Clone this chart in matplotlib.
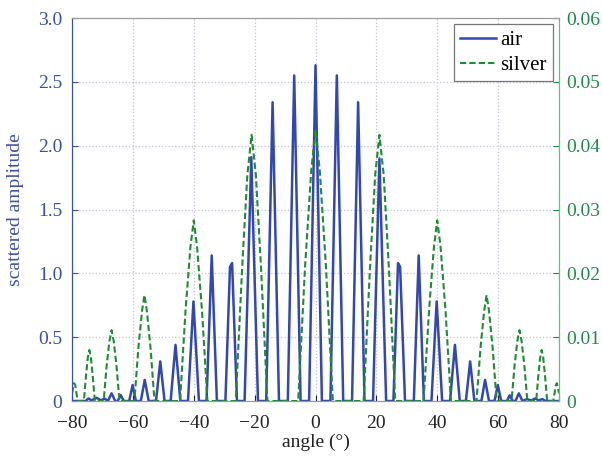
import numpy as np
import matplotlib
matplotlib.use("Agg")
import matplotlib.pyplot as plt

# values
air_angle = [-80, -75.5, -74.6, -73.6, -71.9, -70.5, -69.3, -68.2, -67.0, -65.8,
             -65.0, -64.0, -63.0, -61.2, -60.1, -59.0, -57.4, -56.1, -54.8, -52.4,
             -51.0, -49.6, -47.6, -46.0, -44.4, -41.9, -40.1, -38.3, -35.8, -34.1,
             -32.4, -29.6, -28.1, -27.4, -25.8, -23.3, -21.1, -18.9, -16.2, -14.1,
             -12.0, -9.1, -7.0, -4.9, -2.1, 0.0, 2.1, 4.9, 7.0, 9.1,
             12.0, 14.0, 16.1, 18.9, 21.0, 23.2, 25.6, 27.1, 27.8, 29.4,
             32.3, 33.9, 35.6, 38.1, 39.8, 41.6, 44.2, 45.8, 47.4, 49.4,
             50.8, 52.2, 54.5, 55.7, 57.0, 58.8, 59.9, 61.0, 62.9, 63.8,
             64.8, 65.7, 66.8, 68.0, 69.5, 70.8, 72.2, 73.3, 74.5, 75.6, 80]
air_amp = [0, 0, 0.02, 0.005, 0.025, 0.005, 0.02, 0, 0.06, 0,
           0, 0.047, 0, 0, 0.125, 0, 0, 0.165, 0, 0,
           0.31, 0, 0, 0.44, 0, 0, 0.78, 0, 0, 1.14,
           0, 0, 1.05, 1.08, 0, 0, 1.91, 0, 0, 2.34,
           0, 0, 2.55, 0, 0, 2.63, 0, 0, 2.55, 0,
           0, 2.34, 0, 0, 1.90, 0, 0, 1.08, 1.05, 0,
           0, 1.14, 0, 0, 0.78, 0, 0, 0.44, 0, 0,
           0.31, 0, 0, 0.165, 0, 0, 0.125, 0, 0, 0.045,
           0, 0, 0.06, 0, 0.015, 0.004, 0.02, 0.004, 0.015, 0, 0]

silver_angle = [-80, -79.3, -78.9, -78.6, -78.1,
                -76.1, -75.4, -74.8, -74.3, -73.8, -73.2, -72.5,
                -69.6, -68.6, -67.7, -67.0, -66.3, -65.4, -64.4,
                -59.5, -58.2, -57.0, -56.2, -55.4, -54.2, -52.9,
                -44.5, -42.7, -41.1, -40.0, -38.9, -37.3, -35.5,
                -26.2, -24.1, -22.4, -21.0, -19.6, -17.9, -15.8,
                -5.7, -3.4, -1.4, 0.0, 1.4, 3.4, 5.7,
                15.8, 17.9, 19.6, 21.0, 22.4, 24.1, 26.2,
                35.5, 37.3, 38.9, 40.0, 41.1, 42.7, 44.5,
                52.9, 54.2, 55.4, 56.2, 57.0, 58.2, 59.5,
                64.4, 65.4, 66.3, 67.0, 67.7, 68.6, 69.6,
                72.5, 73.2, 73.8, 74.3, 74.8, 75.4, 76.1,
                78.1, 78.6, 78.9, 79.3, 80]
silver_amp = [0.0012, 0.0028, 0.0024, 0.0014, 0,
              0, 0.004, 0.0068, 0.008, 0.0068, 0.004, 0,
              0, 0.0056, 0.0094, 0.0111, 0.0094, 0.0056, 0,
              0, 0.0083, 0.0141, 0.0166, 0.0141, 0.0083, 0,
              0, 0.0142, 0.0241, 0.0283, 0.0241, 0.0142, 0,
              0, 0.0209, 0.0354, 0.0417, 0.0354, 0.0209, 0,
              0, 0.0213, 0.0361, 0.0425, 0.0361, 0.0213, 0,
              0, 0.0209, 0.0354, 0.0417, 0.0354, 0.0209, 0,
              0, 0.0142, 0.0241, 0.0283, 0.0241, 0.0142, 0,
              0, 0.0083, 0.0141, 0.0166, 0.0141, 0.0083, 0,
              0, 0.0056, 0.0094, 0.0111, 0.0094, 0.0056, 0,
              0, 0.004, 0.0068, 0.008, 0.0068, 0.004, 0,
              0, 0.0014, 0.0024, 0.0028, 0.0012]

x_ticks = [-80, -60, -40, -20, 0, 20, 40, 60, 80]
left_ticks = [0, 0.5, 1.0, 1.5, 2.0, 2.5, 3.0]
left_labels = ["0", "0.5", "1.0", "1.5", "2.0", "2.5", "3.0"]
right_ticks = [0, 0.01, 0.02, 0.03, 0.04, 0.05, 0.06]
right_labels = ["0", "0.01", "0.02", "0.03", "0.04", "0.05", "0.06"]

blue = "#3347b0"
green = "#1e8c32"
blue_txt = "#3a4fa6"
green_txt = "#1f8a4c"

plt.rcParams["font.family"] = ["Liberation Serif", "DejaVu Serif"]

fig = plt.figure(figsize=(6.02, 4.57), dpi=100)
ax = fig.add_axes([0.1196, 0.1225, 0.8090, 0.8381])
ax2 = ax.twinx()

l1, = ax.plot(air_angle, air_amp, color=blue, lw=1.8, label="air")
l2, = ax2.plot(silver_angle, silver_amp, color=green, lw=1.5, ls=(0, (3, 1.5)), label="silver")

ax.set_xlim(-80, 80)
ax.set_ylim(0, 3.0)
ax2.set_ylim(0, 0.06)
ax.set_xticks(x_ticks)
ax.set_xticklabels([str(t).replace("-", "\u2212") for t in x_ticks])
ax.set_yticks(left_ticks)
ax.set_yticklabels(left_labels)
ax2.set_yticks(right_ticks)
ax2.set_yticklabels(right_labels)

ax.grid(True, ls=":", color="#c4c4d8", lw=0.9)
ax.tick_params(axis="x", direction="in", labelsize=14, colors="#222222", length=4, pad=10)
ax.tick_params(axis="y", direction="in", labelsize=14, colors=blue_txt, length=4, pad=7)
ax2.tick_params(axis="y", direction="in", labelsize=14, colors=green_txt, length=4, pad=5)

for a in (ax, ax2):
    a.spines["top"].set_color("#9a9a9a")
    a.spines["bottom"].set_color("#9a9a9a")
    a.spines["left"].set_color(blue_txt)
    a.spines["right"].set_color("#6cbf6c")

ax.set_xlabel("angle (°)", fontsize=14, color="#222222", labelpad=1)
ax.set_ylabel("scattered amplitude", fontsize=14, color=blue_txt, labelpad=10)

leg = ax2.legend([l1, l2], ["air", "silver"], loc="upper right", fontsize=15,
                 fancybox=False, framealpha=1, edgecolor="#777777",
                 borderaxespad=0.3, handlelength=1.7, handletextpad=0.2,
                 labelspacing=0.25, borderpad=0.3)
leg.get_frame().set_linewidth(0.9)

fig.savefig("out.png", dpi=100)
